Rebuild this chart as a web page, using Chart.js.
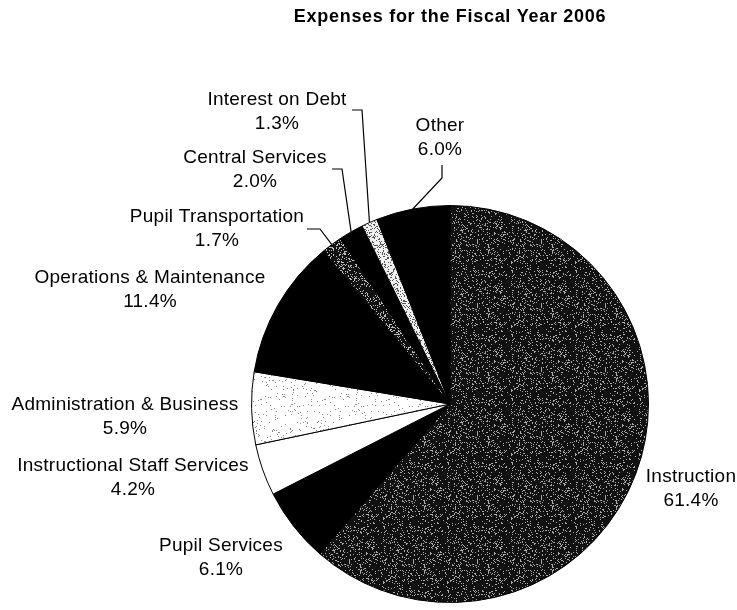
<!DOCTYPE html>
<html>
<head>
<meta charset="utf-8">
<title>Expenses for the Fiscal Year 2006</title>
<script src="https://cdn.jsdelivr.net/npm/chart.js@4.4.1/dist/chart.umd.min.js"></script>
<style>
  html, body { margin: 0; padding: 0; background: #fff; }
  #wrap { width: 737px; height: 610px; }
</style>
</head>
<body>
<div id="wrap"><canvas id="chart" width="737" height="610"></canvas></div>
<script>
// Expense categories, clockwise from 12 o'clock
const categories = [
  'Instruction',
  'Pupil Services',
  'Instructional Staff Services',
  'Administration & Business',
  'Operations & Maintenance',
  'Pupil Transportation',
  'Central Services',
  'Interest on Debt',
  'Other'
];
// Share of total expenses, percent
const shares = [61.4, 6.1, 4.2, 5.9, 11.4, 1.7, 2.0, 1.3, 6.0];
const chartTitle = 'Expenses for the Fiscal Year 2006';

// Label placement: centre x and baseline of the first line
const labelPlacement = [
  { x: 691, y: 482 },
  { x: 221, y: 551 },
  { x: 133, y: 471 },
  { x: 125, y: 410 },
  { x: 150, y: 283 },
  { x: 217, y: 222 },
  { x: 255, y: 163 },
  { x: 277, y: 105 },
  { x: 440, y: 131 }
];
// Leader line elbows (label side); the line then runs to the slice's outer edge
const leaderElbows = {
  5: [[307, 229], [320, 229]],
  6: [[332, 169], [342, 169]],
  7: [[352, 110], [362, 110]],
  8: [[442, 165], [442, 178]]
};

// Stippled fills, built from a deterministic hash so the texture is stable
function hash(x, y, seed) {
  let h = (x * 374761393 + y * 668265263 + seed * 144665) | 0;
  h = Math.imul(h ^ (h >>> 13), 1274126177);
  h = h ^ (h >>> 16);
  return (h >>> 0) / 4294967296;
}
function stipple(base, dot, density, seed) {
  const size = 64;
  const c = document.createElement('canvas');
  c.width = size; c.height = size;
  const g = c.getContext('2d');
  g.fillStyle = base;
  g.fillRect(0, 0, size, size);
  g.fillStyle = dot;
  for (let y = 0; y < size; y++) {
    for (let x = 0; x < size; x++) {
      if (hash(x, y, seed) < density) g.fillRect(x, y, 1, 1);
    }
  }
  return g.createPattern(c, 'repeat');
}

const ctx0 = document.getElementById('chart').getContext('2d');
const fills = [
  stipple('#111111', '#a8a8a8', 0.14, 1),  // Instruction
  '#000000',                               // Pupil Services
  '#ffffff',                               // Instructional Staff Services
  stipple('#ffffff', '#8a8a8a', 0.05, 2),  // Administration & Business
  '#000000',                               // Operations & Maintenance
  stipple('#111111', '#bdbdbd', 0.2, 3),   // Pupil Transportation
  '#000000',                               // Central Services
  stipple('#f0f0f0', '#555555', 0.24, 4),  // Interest on Debt
  '#000000'                                // Other
];

const labelsPlugin = {
  id: 'sliceLabels',
  afterDraw(chart) {
    const ctx = chart.ctx;
    ctx.save();
    // title
    ctx.fillStyle = '#000';
    ctx.textAlign = 'center';
    ctx.textBaseline = 'alphabetic';
    ctx.font = 'bold 18px "Liberation Sans", Arial, sans-serif';
    ctx.letterSpacing = '0.7px';
    ctx.fillText(chartTitle, 450, 22);

    // slice labels
    ctx.font = '19px "Liberation Sans", Arial, sans-serif';
    ctx.letterSpacing = '0.25px';
    const meta = chart.getDatasetMeta(0);
    meta.data.forEach((arc, i) => {
      const p = labelPlacement[i];
      ctx.fillText(categories[i], p.x, p.y);
      ctx.fillText(shares[i].toFixed(1) + '%', p.x, p.y + 24);

      const elbow = leaderElbows[i];
      if (elbow) {
        const a = arc.getProps(['x', 'y', 'startAngle', 'endAngle', 'outerRadius'], true);
        const mid = (a.startAngle + a.endAngle) / 2;
        const ex = a.x + Math.cos(mid) * a.outerRadius;
        const ey = a.y + Math.sin(mid) * a.outerRadius;
        ctx.beginPath();
        ctx.moveTo(elbow[0][0], elbow[0][1]);
        ctx.lineTo(elbow[1][0], elbow[1][1]);
        ctx.lineTo(ex, ey);
        ctx.strokeStyle = '#000';
        ctx.lineWidth = 1.2;
        ctx.stroke();
      }
    });
    ctx.restore();
  }
};

new Chart(ctx0, {
  type: 'pie',
  data: {
    labels: categories,
    datasets: [{
      data: shares,
      backgroundColor: fills,
      borderColor: '#000',
      borderWidth: 1
    }]
  },
  options: {
    responsive: false,
    animation: false,
    events: [],
    layout: { padding: { left: 251, right: 88, top: 205, bottom: 7 } },
    plugins: {
      legend: { display: false },
      tooltip: { enabled: false },
      title: { display: false }
    }
  },
  plugins: [labelsPlugin]
});
</script>
</body>
</html>
